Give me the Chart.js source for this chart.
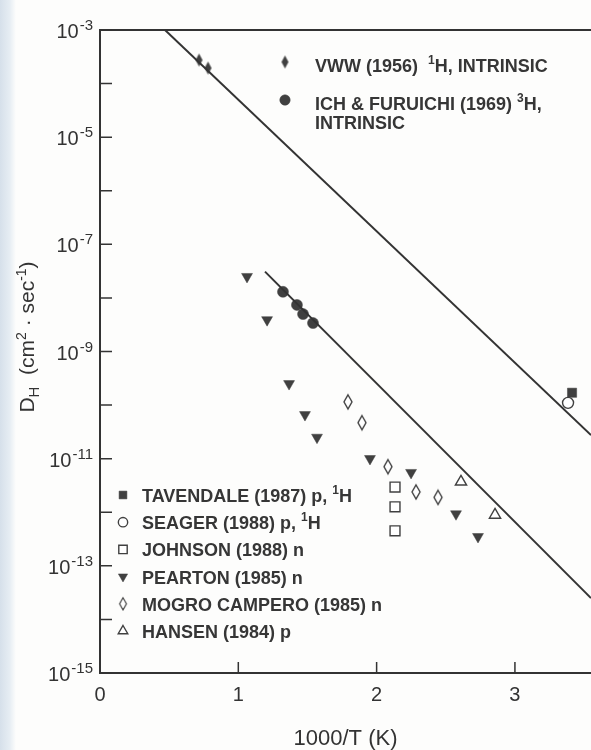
<!DOCTYPE html>
<html>
<head>
<meta charset="utf-8">
<script src="https://cdn.jsdelivr.net/npm/chart.js@4.4.0/dist/chart.umd.min.js"></script>
<style>
  html, body { margin: 0; padding: 0; background: #fdfdfc; }
  #wrap { position: relative; width: 591px; height: 750px; overflow: hidden; background: #fdfdfc; }
  #edge { position: absolute; left: 0; top: 0; width: 16px; height: 750px;
          background: linear-gradient(to right, #d6e0ea, #e6edf3 60%, #fdfdfc); }
  canvas { position: absolute; left: 0; top: 0; }
</style>
</head>
<body>
<div id="wrap"><div id="edge"></div><canvas id="c" width="591" height="750"></canvas></div>
<script>
// Hydrogen diffusivity in silicon versus inverse temperature

// --- data: x = 1000/T (1/K), D = diffusivity (cm^2/s) ---
const vwwX        = [0.716, 0.781];
const vwwD        = [2.75e-4, 1.95e-4];
const ichX        = [1.323, 1.424, 1.468, 1.540];
const ichD        = [1.3e-8, 7.4e-9, 5.0e-9, 3.4e-9];
const tavendaleX  = [3.413];
const tavendaleD  = [1.7e-10];
const seagerX     = [3.384];
const seagerD     = [1.1e-10];
const johnsonX    = [2.133, 2.133, 2.133];
const johnsonD    = [2.95e-12, 1.26e-12, 4.5e-13];
const peartonX    = [1.063, 1.208, 1.367, 1.482, 1.569, 1.952, 2.249, 2.574, 2.733];
const peartonD    = [2.5e-8, 3.9e-9, 2.5e-10, 6.6e-11, 2.5e-11, 1.0e-11, 5.5e-12, 9.3e-13, 3.5e-13];
const mogroX      = [1.793, 1.894, 2.082, 2.285, 2.444];
const mogroD      = [1.15e-10, 4.7e-11, 7.1e-12, 2.4e-12, 1.9e-12];
const hansenX     = [2.610, 2.856];
const hansenD     = [3.7e-12, 8.9e-13];

// fitted Arrhenius lines (end points)
const intrinsicFitX = [0.47, 3.55];
const intrinsicFitD = [1.0e-3, 2.75e-11];
const lowTempFitX   = [1.193, 3.55];
const lowTempFitD   = [3.1e-8, 2.5e-14];

// axis ticks and labels
const xTickValues   = [0, 1, 2, 3];
const xTickLabels   = ['0', '1', '2', '3'];
const yTickExps     = [-15, -14, -13, -12, -11, -10, -9, -8, -7, -6, -5, -4, -3];
const yLabelExps    = [-3, -5, -7, -9, -11, -13, -15];

// legend texts ("^n" marks a superscript)
const upperLegend = [
  { key: 'vww', lines: ['VWW (1956)  ^1H, INTRINSIC'] },
  { key: 'ich', lines: ['ICH & FURUICHI (1969) ^3H,', 'INTRINSIC'] }
];
const lowerLegend = [
  { key: 'tavendale', lines: ['TAVENDALE (1987) p, ^1H'] },
  { key: 'seager',    lines: ['SEAGER (1988) p, ^1H'] },
  { key: 'johnson',   lines: ['JOHNSON (1988) n'] },
  { key: 'pearton',   lines: ['PEARTON (1985) n'] },
  { key: 'mogro',     lines: ['MOGRO CAMPERO (1985) n'] },
  { key: 'hansen',    lines: ['HANSEN (1984) p'] }
];

const INK  = '#333333';
const MARK = '#404040';
const FONT = '"Liberation Sans", Arial, Helvetica, sans-serif';

function diamondCanvas(w, h, filled) {
  const c = document.createElement('canvas');
  c.width = w + 4; c.height = h + 4;
  const g = c.getContext('2d');
  const cx = c.width / 2, cy = c.height / 2;
  g.beginPath();
  g.moveTo(cx, cy - h / 2); g.lineTo(cx + w / 2, cy);
  g.lineTo(cx, cy + h / 2); g.lineTo(cx - w / 2, cy);
  g.closePath();
  if (filled) { g.fillStyle = MARK; g.fill(); }
  else { g.fillStyle = '#fff'; g.fill(); g.lineWidth = 1.4; g.strokeStyle = MARK; g.stroke(); }
  return c;
}

// marker styles per series
const markers = {
  vww:       { style: diamondCanvas(7, 13, true) },
  ich:       { style: 'circle',   r: 5.5, filled: true },
  tavendale: { style: 'rect',     r: 6.5, filled: true },
  seager:    { style: 'circle',   r: 5.5, filled: false },
  johnson:   { style: 'rect',     r: 7,   filled: false },
  pearton:   { style: 'triangle', r: 6.3, filled: true, rot: 180 },
  mogro:     { style: diamondCanvas(8, 14, false) },
  hansen:    { style: 'triangle', r: 6.5, filled: false, rot: 0 }
};

function pts(xs, ys) { return xs.map((x, i) => ({ x: x, y: ys[i] })); }

function markerDataset(label, key, xs, ys) {
  const m = markers[key];
  return {
    label: label,
    data: pts(xs, ys),
    showLine: false,
    pointStyle: m.style,
    pointRadius: m.r || 6,
    pointHoverRadius: m.r || 6,
    pointRotation: m.rot || 0,
    pointBackgroundColor: m.filled ? MARK : '#ffffff',
    pointBorderColor: MARK,
    pointBorderWidth: m.filled ? 0.5 : 1.4
  };
}

function lineDataset(label, xs, ys) {
  return {
    label: label,
    data: pts(xs, ys),
    showLine: true,
    borderColor: INK,
    borderWidth: 2,
    pointRadius: 0,
    pointHoverRadius: 0
  };
}

// draw a marker the same way as the chart does (for the legend)
function drawMarker(ctx, key, x, y, scale) {
  const m = markers[key];
  const s = scale || 1;
  ctx.save();
  if (typeof m.style !== 'string') {
    const w = m.style.width * s, h = m.style.height * s;
    ctx.drawImage(m.style, x - w / 2, y - h / 2, w, h);
    ctx.restore();
    return;
  }
  const r = m.r * s;
  ctx.beginPath();
  if (m.style === 'circle') {
    ctx.arc(x, y, r, 0, Math.PI * 2);
  } else if (m.style === 'rect') {
    const h = Math.SQRT1_2 * r;
    ctx.rect(x - h, y - h, 2 * h, 2 * h);
  } else if (m.style === 'triangle') {
    let rad = (m.rot || 0) * Math.PI / 180;
    ctx.moveTo(x + Math.sin(rad) * r, y - Math.cos(rad) * r);
    rad += 2 * Math.PI / 3;
    ctx.lineTo(x + Math.sin(rad) * r, y - Math.cos(rad) * r);
    rad += 2 * Math.PI / 3;
    ctx.lineTo(x + Math.sin(rad) * r, y - Math.cos(rad) * r);
    ctx.closePath();
  }
  ctx.fillStyle = m.filled ? MARK : '#ffffff';
  ctx.fill();
  ctx.lineWidth = m.filled ? 0.5 : 1.4;
  ctx.strokeStyle = MARK;
  ctx.stroke();
  ctx.restore();
}

// text with "^n" superscripts, left aligned at x on baseline y
function drawRich(ctx, text, x, y, size, weight, supSize, supRise) {
  const parts = text.split(/\^(-?\d+)/);
  let cx = x;
  parts.forEach((p, i) => {
    if (!p) return;
    const sup = i % 2 === 1;
    ctx.font = weight + ' ' + (sup ? supSize : size) + 'px ' + FONT;
    ctx.fillText(p, cx, sup ? y - supRise : y);
    cx += ctx.measureText(p).width;
  });
  return cx - x;
}

const decorations = {
  id: 'decorations',
  afterDraw(chart) {
    const ctx = chart.ctx;
    const a = chart.chartArea;
    const xs = chart.scales.x, ys = chart.scales.y;
    ctx.save();
    ctx.strokeStyle = INK;
    ctx.fillStyle = INK;

    // top frame edge
    ctx.lineWidth = 2;
    ctx.beginPath();
    ctx.moveTo(a.left - 1, a.top);
    ctx.lineTo(a.right, a.top);
    ctx.stroke();

    // inward tick marks
    ctx.lineWidth = 1.5;
    ctx.beginPath();
    yTickExps.forEach(e => {
      const py = ys.getPixelForValue(Math.pow(10, e));
      ctx.moveTo(a.left, py); ctx.lineTo(a.left + 12, py);
    });
    xTickValues.forEach(v => {
      if (v === 0) return;
      const px = xs.getPixelForValue(v);
      ctx.moveTo(px, a.bottom); ctx.lineTo(px, a.bottom - 11);
    });
    ctx.stroke();

    // y tick labels 10^n
    ctx.textBaseline = 'alphabetic';
    ctx.textAlign = 'left';
    yLabelExps.forEach(e => {
      const py = ys.getPixelForValue(Math.pow(10, e));
      ctx.font = '20px ' + FONT;
      const w1 = ctx.measureText('10').width;
      ctx.font = '15px ' + FONT;
      const w2 = ctx.measureText(String(e)).width;
      const x0 = 92 - w1 - w2;
      ctx.font = '20px ' + FONT;
      ctx.fillText('10', x0, py + 8);
      ctx.font = '15px ' + FONT;
      ctx.fillText(String(e), x0 + w1 + 1, py);
    });

    // x tick labels
    ctx.textAlign = 'center';
    ctx.font = '20px ' + FONT;
    xTickValues.forEach((v, i) => {
      ctx.fillText(xTickLabels[i], xs.getPixelForValue(v), 701);
    });

    // x axis title
    ctx.font = '22px ' + FONT;
    ctx.fillText('1000/T (K)', (a.left + a.right) / 2, 745);

    // y axis title: D_H (cm^2 · sec^-1)
    ctx.save();
    ctx.translate(34, 337);
    ctx.rotate(-Math.PI / 2);
    ctx.textAlign = 'left';
    const segs = [
      ['D', 21, 0], ['H', 15, -5], ['  (cm', 21, 0], ['2', 14, 8],
      [' \u00B7 sec', 21, 0], ['-1', 14, 8], [')', 21, 0]
    ];
    let total = 0;
    segs.forEach(s => { ctx.font = s[1] + 'px ' + FONT; total += ctx.measureText(s[0]).width; });
    let cx = -total / 2;
    segs.forEach(s => {
      ctx.font = s[1] + 'px ' + FONT;
      ctx.fillText(s[0], cx, -s[2]);
      cx += ctx.measureText(s[0]).width;
    });
    ctx.restore();

    // legends
    ctx.textAlign = 'left';
    ctx.fillStyle = '#363636';
    const upperRows = [62, 100];
    upperLegend.forEach((item, i) => {
      drawMarker(ctx, item.key, 285, upperRows[i], item.key === 'ich' ? 0.95 : 1);
      item.lines.forEach((ln, j) => {
        drawRich(ctx, ln, 315, upperRows[i] + 10 + j * 19, 18, 'bold', 12, 8);
      });
    });
    lowerLegend.forEach((item, i) => {
      const cy = 495 + i * 27.2;
      drawMarker(ctx, item.key, 123, cy, 0.85);
      item.lines.forEach(ln => {
        drawRich(ctx, ln, 142, cy + 7, 18, 'bold', 12, 8);
      });
    });
    ctx.restore();
  }
};

new Chart(document.getElementById('c'), {
  type: 'scatter',
  data: {
    datasets: [
      lineDataset('intrinsic fit', intrinsicFitX, intrinsicFitD),
      lineDataset('low temperature fit', lowTempFitX, lowTempFitD),
      markerDataset('VWW (1956) 1H, INTRINSIC', 'vww', vwwX, vwwD),
      markerDataset('ICH & FURUICHI (1969) 3H, INTRINSIC', 'ich', ichX, ichD),
      markerDataset('TAVENDALE (1987) p, 1H', 'tavendale', tavendaleX, tavendaleD),
      markerDataset('SEAGER (1988) p, 1H', 'seager', seagerX, seagerD),
      markerDataset('JOHNSON (1988) n', 'johnson', johnsonX, johnsonD),
      markerDataset('PEARTON (1985) n', 'pearton', peartonX, peartonD),
      markerDataset('MOGRO CAMPERO (1985) n', 'mogro', mogroX, mogroD),
      markerDataset('HANSEN (1984) p', 'hansen', hansenX, hansenD)
    ]
  },
  options: {
    responsive: false,
    animation: false,
    events: [],
    layout: { autoPadding: false, padding: { top: 30, right: 0, bottom: 0, left: 0 } },
    plugins: { legend: { display: false }, tooltip: { enabled: false } },
    scales: {
      x: {
        type: 'linear',
        min: 0,
        max: 3.55,
        grid: { display: false },
        border: { display: true, color: INK, width: 2 },
        ticks: { display: false, stepSize: 1, includeBounds: false },
        afterFit(scale) { scale.height = 77; }
      },
      y: {
        type: 'logarithmic',
        min: 1e-15,
        max: 1e-3,
        grid: { display: false },
        border: { display: true, color: INK, width: 2 },
        ticks: { display: false },
        afterFit(scale) { scale.width = 100; }
      }
    }
  },
  plugins: [decorations]
});
</script>
</body>
</html>
